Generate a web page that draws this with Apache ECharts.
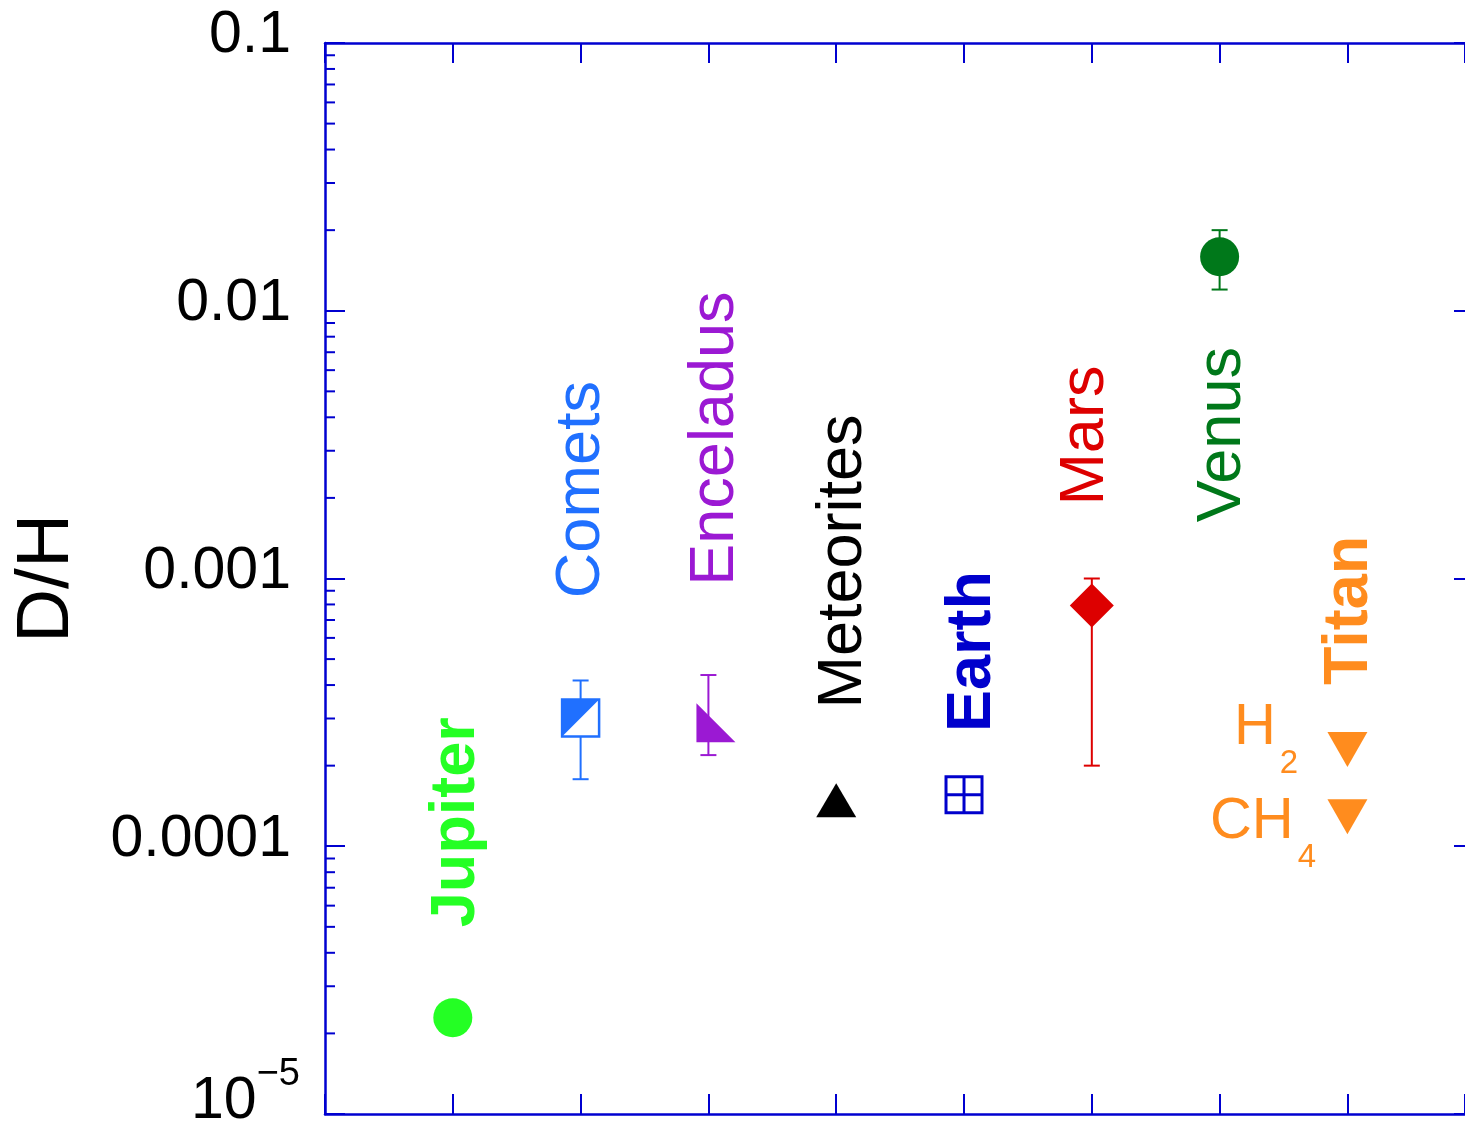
<!DOCTYPE html>
<html><head><meta charset="utf-8">
<script src="https://cdn.jsdelivr.net/npm/echarts@6/dist/echarts.min.js"></script>
<style>html,body{margin:0;padding:0;background:#fff}#c{width:1465px;height:1131px}</style>
</head><body><div id="c"></div>
<script>
// ---------- data ----------
const bodyNames = ['Jupiter', 'Comets', 'Enceladus', 'Meteorites', 'Earth', 'Mars', 'Venus', 'Titan'];
const bodyX     = [1, 2, 3, 4, 5, 6, 7, 8];
const bodyColors = ['#24ff24', '#2070ff', '#9b19d3', '#000000', '#0000cc', '#dd0000', '#00781a', '#ff8c1e'];
const labelBold  = [true, false, false, false, true, false, false, true];

// D/H values (Titan has two: H2 and CH4)
const dhJupiter = 2.29e-5;
const dhComets = 3.01e-4;
const dhEnceladus = 2.89e-4;
const dhMeteorites = 1.485e-4;
const dhEarth = 1.556e-4;
const dhMars = 7.93e-4;
const dhVenus = 1.59e-2;
const dhTitanH2 = 2.30e-4;
const dhTitanCH4 = 1.29e-4;

// error bars: [x, low, high]
const errX    = [2, 3, 6, 7];
const errLow  = [1.78e-4, 2.19e-4, 2.0e-4, 1.2e-2];
const errHigh = [4.16e-4, 4.36e-4, 1.0e-3, 2.0e-2];
const errColor = ['#2070ff', '#9b19d3', '#dd0000', '#00781a'];

// label anchors (x in category units, y in D/H units)
const labelX = [1.03, 2.01, 3.06, 4.06, 5.07, 5.95, 7.02, 8.02];
const labelY = [1.229e-4, 2.148e-3, 3.33e-3, 1.157e-3, 5.34e-4, 3.417e-3, 3.446e-3, 7.6e-4];

// Titan species labels
const speciesMain = ['H', 'CH'];
const speciesSub  = ['2', '4'];
const speciesX    = [7.44, 7.58];
const speciesY    = [2.756e-4, 1.229e-4];

// axis ticks
const yTickExp    = [-5, -4, -3, -2, -1];
const yTickLabels = ['10^−5', '0.0001', '0.001', '0.01', '0.1'];
const minorDecades = [1e-5, 1e-4, 1e-3, 1e-2];
const minorMults   = [2, 3, 4, 5, 6, 7, 8, 9];

// ---------- styling ----------
const AX = '#0000d0';
const FONT = '"Liberation Sans", Arial, sans-serif';

const minorTicks = [];
minorDecades.forEach(d => minorMults.forEach(m => minorTicks.push([0, d * m])));

const markers = [
  { value: [bodyX[0], dhJupiter], symbol: 'circle', symbolSize: 39, itemStyle: { color: bodyColors[0] } },
  { value: [bodyX[1], dhComets], symbol: 'rect', symbolSize: 37, itemStyle: { color: '#fff', borderColor: bodyColors[1], borderWidth: 2.5 } },
  { value: [bodyX[1], dhComets], symbol: 'path://M0,0L10,0L0,10Z', symbolSize: 38, itemStyle: { color: bodyColors[1] } },
  { value: [bodyX[2], dhEnceladus], symbol: 'path://M0,0L0,10L10,10Z', symbolSize: 39, symbolOffset: [7.5, 0], itemStyle: { color: bodyColors[2] } },
  { value: [bodyX[3], dhMeteorites], symbol: 'triangle', symbolSize: [40, 34], itemStyle: { color: bodyColors[3] } },
  { value: [bodyX[4], dhEarth], symbol: 'path://M0,0H10V10H0ZM5,0V10M0,5H10', symbolSize: 36, itemStyle: { color: 'rgba(0,0,0,0)', borderColor: bodyColors[4], borderWidth: 3 } },
  { value: [bodyX[5], dhMars], symbol: 'diamond', symbolSize: 44, itemStyle: { color: bodyColors[5] } },
  { value: [bodyX[6], dhVenus], symbol: 'circle', symbolSize: 39, itemStyle: { color: bodyColors[6] } },
  { value: [bodyX[7], dhTitanH2], symbol: 'triangle', symbolRotate: 180, symbolSize: [40, 35], itemStyle: { color: bodyColors[7] } },
  { value: [bodyX[7], dhTitanCH4], symbol: 'triangle', symbolRotate: 180, symbolSize: [40, 35], itemStyle: { color: bodyColors[7] } }
];

const labelData = bodyNames.map((n, i) => ({
  name: n,
  value: [labelX[i], labelY[i]],
  label: { color: bodyColors[i], fontWeight: labelBold[i] ? 'bold' : 'normal' }
}));

const errData = errX.map((x, i) => ({ value: [x, errLow[i], errHigh[i]], itemStyle: { color: errColor[i] } }));

const speciesData = speciesMain.map((m, i) => ({ value: [speciesX[i], speciesY[i]], name: m, sub: speciesSub[i] }));

function yLabel(v) {
  const e = Math.round(Math.log10(v));
  const idx = yTickExp.indexOf(e);
  if (idx < 0) return '';
  const t = yTickLabels[idx];
  if (t.indexOf('^') >= 0) {
    const p = t.split('^');
    return '{b|' + p[0] + '}{sup|' + p[1] + '}';
  }
  return '{n|' + t + '}';
}

const xAxisBase = {
  type: 'value', min: 0, max: 8.92, interval: 1,
  axisLine: { show: true, onZero: false, lineStyle: { color: AX, width: 2.5 } },
  axisTick: { show: true, inside: true, length: 20, lineStyle: { color: AX, width: 2 } },
  axisLabel: { show: false }, splitLine: { show: false }
};

const chart = echarts.init(document.getElementById('c'), null, { renderer: 'canvas' });
chart.setOption({
  animation: false,
  backgroundColor: '#fff',
  grid: { left: 325, top: 43, right: -2, bottom: 16, containLabel: false },
  xAxis: [
    Object.assign({}, xAxisBase, { position: 'bottom' }),
    Object.assign({}, xAxisBase, { position: 'top' })
  ],
  yAxis: [
    {
      type: 'log', logBase: 10, min: 1e-5, max: 0.1, position: 'left',
      axisLine: { show: true, onZero: false, lineStyle: { color: AX, width: 2.5 } },
      axisTick: { show: true, inside: true, length: 20, lineStyle: { color: AX, width: 2 } },
      minorTick: { show: false },
      splitLine: { show: false },
      axisLabel: {
        margin: 25, formatter: yLabel, color: '#000', fontFamily: FONT,
        rich: {
          n: { fontSize: 59, fontFamily: FONT, color: '#000', padding: [0, 9, 14, 0] },
          b: { fontSize: 59, fontFamily: FONT, color: '#000', padding: [16, 0, 41, 0] },
          sup: { fontSize: 38, fontFamily: FONT, color: '#000', verticalAlign: 'top' }
        }
      },
      name: 'D/H', nameLocation: 'middle', nameRotate: 90, nameGap: 240,
      nameTextStyle: { fontSize: 75, fontFamily: FONT, color: '#000' }
    },
    {
      type: 'log', logBase: 10, min: 1e-5, max: 0.1, position: 'right',
      axisLine: { show: false, onZero: false },
      axisTick: { show: true, inside: true, length: 11, lineStyle: { color: AX, width: 2 } },
      axisLabel: { show: false }, splitLine: { show: false }
    }
  ],
  series: [
    {
      type: 'custom', name: 'minorTicks', coordinateSystem: 'cartesian2d', clip: false,
      data: minorTicks, silent: true,
      renderItem: function (params, api) {
        const p = api.coord([api.value(0), api.value(1)]);
        return { type: 'line', shape: { x1: p[0], y1: p[1], x2: p[0] + 10, y2: p[1] }, style: { stroke: AX, lineWidth: 2 } };
      }
    },
    {
      type: 'custom', name: 'errorBars', coordinateSystem: 'cartesian2d', clip: false,
      encode: { x: 0, y: [1, 2] }, data: errData, silent: true,
      renderItem: function (params, api) {
        const x = api.value(0);
        const lo = api.coord([x, api.value(1)]);
        const hi = api.coord([x, api.value(2)]);
        const c = api.visual('color');
        const st = { stroke: c, lineWidth: 2 };
        const w = 8;
        return { type: 'group', children: [
          { type: 'line', shape: { x1: lo[0], y1: lo[1], x2: hi[0], y2: hi[1] }, style: st },
          { type: 'line', shape: { x1: lo[0] - w, y1: lo[1], x2: lo[0] + w, y2: lo[1] }, style: st },
          { type: 'line', shape: { x1: hi[0] - w, y1: hi[1], x2: hi[0] + w, y2: hi[1] }, style: st }
        ] };
      }
    },
    {
      type: 'scatter', name: 'markers', data: markers, silent: true, z: 3,
      itemStyle: { opacity: 1 }
    },
    {
      type: 'scatter', name: 'labels', data: labelData, symbolSize: 1, silent: true, z: 4,
      itemStyle: { color: 'rgba(0,0,0,0)', opacity: 1 },
      label: {
        show: true, position: 'inside', rotate: 90, formatter: '{b}', opacity: 1,
        fontSize: 63, fontFamily: FONT, align: 'center', verticalAlign: 'middle'
      }
    },
    {
      type: 'custom', name: 'species', coordinateSystem: 'cartesian2d', clip: false, silent: true,
      data: speciesData, z: 4,
      renderItem: function (params, api) {
        const p = api.coord([api.value(0), api.value(1)]);
        const d = speciesData[params.dataIndex];
        return { type: 'group', children: [
          { type: 'text', x: p[0], y: p[1], style: { text: d.name, fill: bodyColors[7], fontSize: 58, fontFamily: FONT, align: 'right', verticalAlign: 'middle', textAlign: 'right', textVerticalAlign: 'middle' } },
          { type: 'text', x: p[0] + 4, y: p[1] + 36, style: { text: d.sub, fill: bodyColors[7], fontSize: 33, fontFamily: FONT, align: 'left', verticalAlign: 'middle', textAlign: 'left', textVerticalAlign: 'middle' } }
        ] };
      }
    }
  ]
});
</script></body></html>
